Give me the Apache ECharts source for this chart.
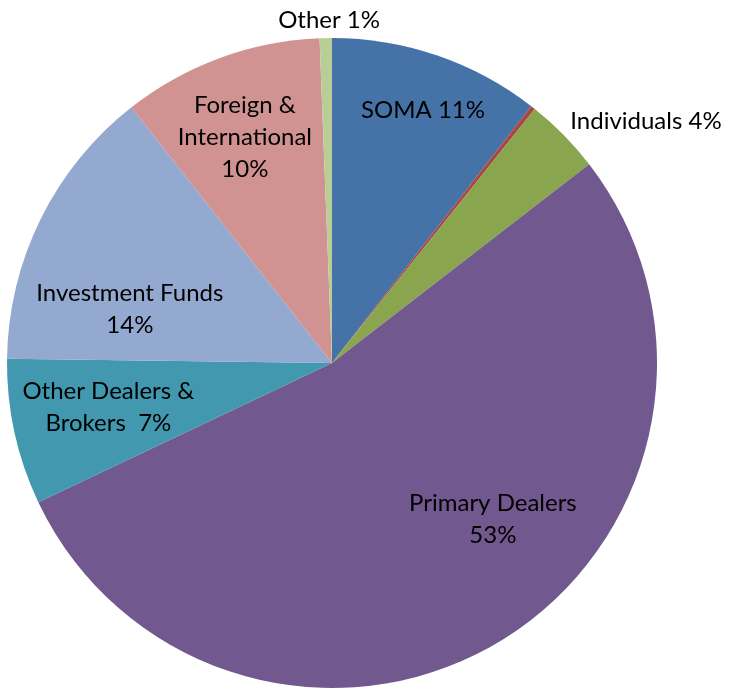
<!DOCTYPE html>
<html>
<head>
<meta charset="utf-8">
<script src="https://cdn.jsdelivr.net/npm/echarts@6/dist/echarts.min.js"></script>
<style>
html,body{margin:0;padding:0;background:#fff;}
#chart{width:731px;height:693px;}
</style>
</head>
<body>
<div id="chart"></div>
<script>
// Data (percent shares, clockwise from 12 o'clock)
const categories = ['SOMA', 'Other (red)', 'Individuals', 'Primary Dealers', 'Other Dealers & Brokers', 'Investment Funds', 'Foreign & International', 'Other'];
const values = [10.5, 0.22, 3.8, 53.4, 7.25, 14.2, 9.97, 0.61];
const labelTexts = ['SOMA 11%', '', 'Individuals 4%', 'Primary Dealers\n53%', 'Other Dealers &\nBrokers  7%', 'Investment Funds\n14%', 'Foreign &\nInternational\n10%', 'Other 1%'];

// Styling / layout (kept separate from data)
const colors = ['#4572A7', '#AA4643', '#89A54E', '#71588F', '#4198AF', '#93A9CF', '#D19392', '#B9CD96'];
const CX = 332, CY = 363, R = 325;
// label offsets from pie centre, in units of radius
const labelOffsets = [[0.28, -0.778], [0, 0], [0.966, -0.745], [0.495, 0.48], [-0.688, 0.135], [-0.622, -0.166], [-0.268, -0.695], [-0.009, -1.055]];

const chart = echarts.init(document.getElementById('chart'), null, {renderer: 'canvas'});
chart.setOption({
  animation: false,
  backgroundColor: '#ffffff',
  series: [{
    type: 'pie',
    center: [CX, CY],
    radius: [0, R],
    startAngle: 90,
    clockwise: true,
    avoidLabelOverlap: false,
    minAngle: 0,
    itemStyle: {borderWidth: 0},
    emphasis: {disabled: true},
    label: {
      show: true,
      position: 'inside',
      fontFamily: 'Lato',
      fontSize: 24,
      lineHeight: 32,
      color: '#000000',
      align: 'center',
      formatter: p => labelTexts[p.dataIndex]
    },
    labelLine: {show: false},
    labelLayout: function (params) {
      const o = labelOffsets[params.dataIndex];
      return {x: CX + o[0] * R, y: CY + o[1] * R, align: 'center', verticalAlign: 'middle'};
    },
    data: categories.map((c, i) => ({
      name: c,
      value: values[i],
      itemStyle: {color: colors[i]},
      label: {show: labelTexts[i] !== ''}
    }))
  }]
});
</script>
</body>
</html>
